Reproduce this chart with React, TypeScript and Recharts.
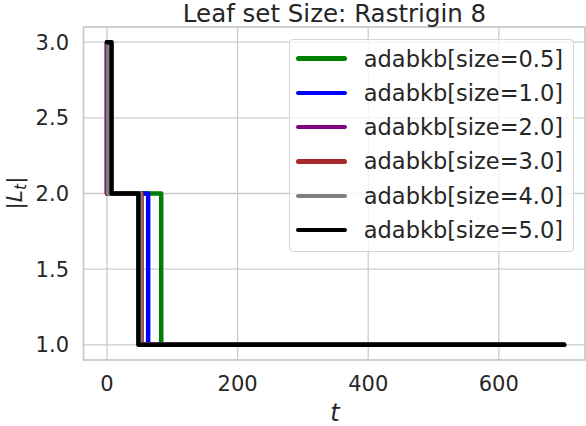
import React from 'react';
import { LineChart, Line, XAxis, YAxis, CartesianGrid, ReferenceArea, Legend } from 'recharts';

// Step data: [t, |L_t|]
const size05: [number, number][] = [[0, 3], [0, 2], [83, 1], [700, 1]];
const size10: [number, number][] = [[0, 3], [0, 2], [63, 1], [700, 1]];
const size20: [number, number][] = [[0, 3], [0, 2], [50, 1], [700, 1]];
const size30: [number, number][] = [[0, 3], [1, 2], [53, 1], [700, 1]];
const size40: [number, number][] = [[0, 3], [2, 2], [51, 1], [700, 1]];
const size50: [number, number][] = [[0, 3], [7, 2], [48, 1], [700, 1]];

const seriesNames = [
  'adabkb[size=0.5]',
  'adabkb[size=1.0]',
  'adabkb[size=2.0]',
  'adabkb[size=3.0]',
  'adabkb[size=4.0]',
  'adabkb[size=5.0]',
];
const seriesColors = ['#008000', '#0000ff', '#800080', '#a52a2a', '#808080', '#000000'];
const seriesData = [size05, size10, size20, size30, size40, size50];

const xTicks = [0, 200, 400, 600];
const yTicks = [1.0, 1.5, 2.0, 2.5, 3.0];
const xDomain: [number, number] = [-36, 732];
const yDomain: [number, number] = [0.9, 3.1];

const FONT = '"DejaVu Sans", sans-serif';
const TEXT = '#262626';
const GRID = '#cccccc';

const LegendBox = () => (
  <div
    style={{
      boxSizing: 'border-box',
      width: 285,
      height: 213,
      border: '1px solid #d5d5d5',
      borderRadius: 4,
      background: 'rgba(255,255,255,0.8)',
      paddingTop: 1.5,
      fontFamily: FONT,
      fontSize: 22.5,
      color: TEXT,
    }}
  >
    {seriesNames.map((n, i) => (
      <div key={n} style={{ height: 34.3, lineHeight: '34.3px', display: 'flex', alignItems: 'center', whiteSpace: 'nowrap' }}>
        <div style={{ marginLeft: 6, width: 51, height: 4.5, borderRadius: 2.5, background: seriesColors[i] }} />
        <span style={{ marginLeft: 16.5 }}>{n}</span>
      </div>
    ))}
  </div>
);

export default function App() {
  return (
    <div style={{ position: 'absolute', left: 0, top: 0, width: 586, height: 426, background: '#fff' }}>
      <LineChart width={586} height={426} margin={{ top: 27, right: 1, left: 0, bottom: 0 }}>
        <CartesianGrid stroke={GRID} strokeWidth={1.3} />
        <ReferenceArea x1={xDomain[0]} x2={xDomain[1]} y1={yDomain[0]} y2={yDomain[1]} fill="none" stroke={GRID} strokeWidth={1.6} fillOpacity={0} />
        <XAxis
          type="number"
          dataKey="t"
          domain={xDomain}
          ticks={xTicks}
          allowDataOverflow
          height={66}
          tickSize={0}
          tickMargin={16}
          axisLine={false}
          tick={{ fontSize: 21, fill: TEXT, fontFamily: FONT }}
        />
        <YAxis
          type="number"
          domain={yDomain}
          ticks={yTicks}
          allowDataOverflow
          width={83.5}
          tickSize={0}
          tickMargin={14.5}
          axisLine={false}
          tickFormatter={(v: number) => v.toFixed(1)}
          tick={{ fontSize: 21, fill: TEXT, fontFamily: FONT }}
        />
        {seriesData.map((d, i) => (
          <Line
            key={seriesNames[i]}
            name={seriesNames[i]}
            data={d.map(([t, y]) => ({ t, y }))}
            dataKey="y"
            type="stepAfter"
            stroke={seriesColors[i]}
            strokeWidth={4.5}
            strokeLinecap="round"
            strokeLinejoin="round"
            dot={false}
            activeDot={false}
            isAnimationActive={false}
          />
        ))}
        <Legend
          layout="vertical"
          align="center"
          verticalAlign="middle"
          content={() => <LegendBox />}
          wrapperStyle={{ left: 289.3, top: 39, width: 285, height: 213 }}
        />
      </LineChart>
      <svg width={586} height={426} style={{ position: 'absolute', left: 0, top: 0, pointerEvents: 'none' }}>
        <text x={334.5} y={22} textAnchor="middle" fontFamily={FONT} fontSize={24.5} fill={TEXT}>
          Leaf set Size: Rastrigin 8
        </text>
        <text x={335} y={421} textAnchor="middle" fontFamily={FONT} fontSize={24} fontStyle="italic" fill={TEXT}>
          t
        </text>
        <text transform="translate(22,193) rotate(-90)" textAnchor="middle" fontFamily={FONT} fontSize={22} fill={TEXT}>
          <tspan>|</tspan>
          <tspan fontStyle="italic">L</tspan>
          <tspan fontStyle="italic" fontSize={15.4} dy={4}>t</tspan>
          <tspan dy={-4}>|</tspan>
        </text>
      </svg>
    </div>
  );
}
